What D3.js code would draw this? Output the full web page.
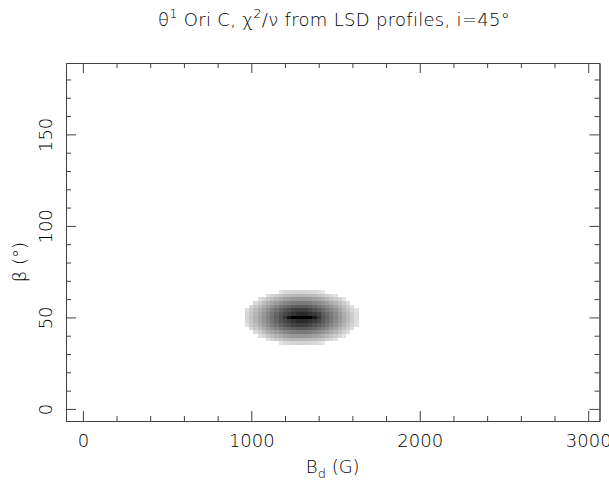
<!DOCTYPE html>
<html>
<head>
<meta charset="utf-8">
<script src="https://cdn.jsdelivr.net/npm/d3@7"></script>
<style>
  html, body { margin: 0; padding: 0; background: #fff; }
  svg text { font-family: "DejaVu Sans", sans-serif; font-weight: 200; fill: #000; }
</style>
</head>
<body>
<svg id="chart" width="609" height="490"></svg>
<script>
// Grid of the chi^2 map: dipole strength (G) and obliquity (deg)
const bdGrid = [975, 1000, 1025, 1050, 1075, 1100, 1125, 1150, 1175, 1200, 1225, 1250, 1275, 1300,
                1325, 1350, 1375, 1400, 1425, 1450, 1475, 1500, 1525, 1550, 1575, 1600, 1625];
const betaGrid = [64, 62, 60, 58, 56, 54, 52, 50, 48, 46, 44, 42, 40, 38, 36];

// Grey level of each cell (0 = white, 100 = black); one row per beta, one column per Bd
const shade = [
  [0,0,0,0,0,0,0,0,11,14,15,16,17,17,17,16,15,13,10,0,0,0,0,0,0,0,0],
  [0,0,0,0,0,13,16,20,22,25,27,28,29,29,28,27,26,24,21,18,15,11,0,0,0,0,0],
  [0,0,0,13,17,22,26,30,33,36,38,40,41,41,40,39,37,35,32,28,24,20,16,11,0,0,0],
  [0,0,15,20,26,31,35,39,43,47,49,51,52,53,52,51,48,45,42,38,33,29,24,18,13,0,0],
  [0,15,21,27,32,38,43,48,53,57,60,63,64,64,64,62,59,55,51,46,41,36,30,25,19,13,0],
  [13,20,26,32,38,44,50,55,61,66,70,74,76,76,75,72,68,64,59,53,47,42,36,29,23,17,11],
  [16,22,29,35,41,48,54,60,67,72,76,80,83,84,83,80,77,72,64,58,52,45,39,32,26,20,13],
  [17,23,30,36,43,49,56,62,69,78,92,100,100,100,100,100,90,78,66,60,53,47,40,33,27,20,14],
  [16,22,29,35,41,48,54,60,67,72,76,80,83,84,83,80,77,72,64,58,52,45,39,32,26,20,13],
  [13,20,26,32,38,44,50,55,61,66,70,74,76,76,75,72,68,64,59,53,47,42,36,29,23,17,11],
  [0,15,21,27,32,38,43,48,53,57,60,63,64,64,64,62,59,55,51,46,41,36,30,25,19,13,0],
  [0,0,15,20,26,31,35,39,43,47,49,51,52,53,52,51,48,45,42,38,33,29,24,18,13,0,0],
  [0,0,0,13,17,22,26,30,33,36,38,40,41,41,40,39,37,35,32,28,24,20,16,11,0,0,0],
  [0,0,0,0,0,13,16,20,22,25,27,28,29,29,28,27,26,24,21,18,15,11,0,0,0,0,0],
  [0,0,0,0,0,0,0,0,11,14,15,16,17,17,17,16,15,13,10,0,0,0,0,0,0,0,0]
];
const bdStep = 25, betaStep = 2;

// Axis ticks
const xMajorTicks = [0, 1000, 2000, 3000];
const xMinorTicks = [200, 400, 600, 800, 1200, 1400, 1600, 1800, 2200, 2400, 2600, 2800];
const yMajorTicks = [0, 50, 100, 150];
const yMinorTicks = [10, 20, 30, 40, 60, 70, 80, 90, 110, 120, 130, 140, 160, 170, 180];

const svg = d3.select("#chart");
const frame = { left: 66, right: 599.5, top: 63, bottom: 421 };

const x = d3.scaleLinear().domain([-100, 3067]).range([frame.left, frame.right]);
const y = d3.scaleLinear().domain([-6.6, 189]).range([frame.bottom, frame.top]);

// Map cells
const cells = [];
betaGrid.forEach((b, i) => bdGrid.forEach((bd, j) => {
  const v = shade[i][j];
  if (v > 0) cells.push({ bd, b, v });
}));
const grey = d3.scaleLinear().domain([0, 100]).range([255, 0]);

svg.append("g").selectAll("rect").data(cells).join("rect")
  .attr("x", d => x(d.bd - bdStep / 2))
  .attr("y", d => y(d.b + betaStep / 2))
  .attr("width", d => x(d.bd + bdStep / 2) - x(d.bd - bdStep / 2))
  .attr("height", d => y(d.b - betaStep / 2) - y(d.b + betaStep / 2))
  .attr("fill", d => { const g = Math.round(grey(d.v)); return `rgb(${g},${g},${g})`; })
  .attr("shape-rendering", "crispEdges");

// Axes: inward ticks on all four sides
const axisColor = "#404040";
function styleAxis(g) {
  g.selectAll("path, line").attr("stroke", axisColor).attr("stroke-width", 1);
  g.selectAll("text").style("font-size", "18px").style("font-family", "DejaVu Sans, sans-serif")
    .style("font-weight", "200").attr("fill", "#000");
}

svg.append("g").attr("transform", `translate(0,${frame.bottom})`)
  .call(d3.axisBottom(x).tickValues(xMajorTicks).tickSize(-10).tickSizeOuter(0).tickPadding(13)
        .tickFormat(d3.format("d")))
  .call(styleAxis);
svg.append("g").attr("transform", `translate(0,${frame.bottom})`)
  .call(d3.axisBottom(x).tickValues(xMinorTicks).tickSize(-5).tickSizeOuter(0).tickFormat(""))
  .call(styleAxis);

svg.append("g").attr("transform", `translate(0,${frame.top})`)
  .call(d3.axisTop(x).tickValues(xMajorTicks).tickSize(-10).tickSizeOuter(0).tickFormat(""))
  .call(styleAxis);
svg.append("g").attr("transform", `translate(0,${frame.top})`)
  .call(d3.axisTop(x).tickValues(xMinorTicks).tickSize(-5).tickSizeOuter(0).tickFormat(""))
  .call(styleAxis);

const gl = svg.append("g").attr("transform", `translate(${frame.left},0)`)
  .call(d3.axisLeft(y).tickValues(yMajorTicks).tickSize(-10).tickSizeOuter(0).tickFormat(d3.format("d")))
  .call(styleAxis);
// vertical tick labels, read from bottom to top
gl.selectAll("text")
  .attr("transform", "rotate(-90)")
  .attr("x", 0).attr("y", -14).attr("dy", 0)
  .attr("text-anchor", "middle");
svg.append("g").attr("transform", `translate(${frame.left},0)`)
  .call(d3.axisLeft(y).tickValues(yMinorTicks).tickSize(-5).tickSizeOuter(0).tickFormat(""))
  .call(styleAxis);

svg.append("g").attr("transform", `translate(${frame.right},0)`)
  .call(d3.axisRight(y).tickValues(yMajorTicks).tickSize(-10).tickSizeOuter(0).tickFormat(""))
  .call(styleAxis);
svg.append("g").attr("transform", `translate(${frame.right},0)`)
  .call(d3.axisRight(y).tickValues(yMinorTicks).tickSize(-5).tickSizeOuter(0).tickFormat(""))
  .call(styleAxis);

// Axis titles
const xt = svg.append("text")
  .attr("x", (frame.left + frame.right) / 2).attr("y", 473)
  .attr("text-anchor", "middle").style("font-size", "18px");
xt.append("tspan").text("B");
xt.append("tspan").attr("dy", 5).style("font-size", "13px").text("d");
xt.append("tspan").attr("dy", -5).text(" (G)");

const yt = svg.append("text")
  .attr("transform", `translate(26,${(frame.top + frame.bottom) / 2 + 20}) rotate(-90)`)
  .attr("text-anchor", "middle").style("font-size", "18px");
yt.append("tspan").text("β");
yt.append("tspan").text(" (°)");

// Title
const title = svg.append("text")
  .attr("x", 334).attr("y", 26)
  .attr("text-anchor", "middle").style("font-size", "18px")
  .style("letter-spacing", "0.3px");
title.append("tspan").text("θ");
title.append("tspan").attr("dy", -8).style("font-size", "13px").text("1");
title.append("tspan").attr("dy", 8).text(" Ori C, ");
title.append("tspan").text("χ");
title.append("tspan").attr("dy", -8).style("font-size", "13px").text("2");
title.append("tspan").attr("dy", 8).text("/");
title.append("tspan").text("ν");
title.append("tspan").text(" from LSD profiles, i=45°");
</script>
</body>
</html>
